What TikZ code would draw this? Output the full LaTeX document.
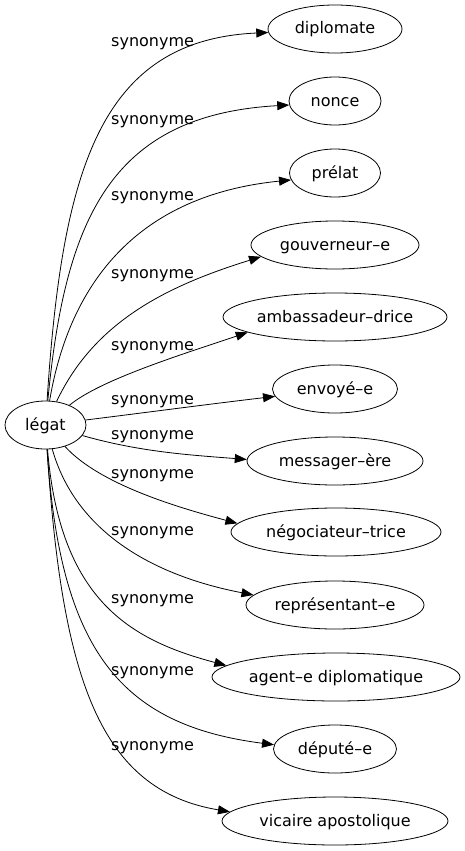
\documentclass[tikz,border=0pt]{standalone}
\usepackage{fontspec}
\setmainfont{DejaVu Sans}
\usetikzlibrary{shapes.geometric}
\usetikzlibrary{arrows.meta}

\begin{document}
\begin{tikzpicture}[
x=1pt, y=-1pt,
word_node/.style={ellipse, draw, line width=0.8pt, inner sep=0pt, minimum height=48pt, minimum width=#1, text height=12pt, text depth=2pt, font=\fontsize{16}{19}\selectfont},
syn_label/.style={anchor=base west, inner sep=0pt, font=\fontsize{16}{19}\selectfont},
syn_edge/.style={line width=0.8pt, -{Triangle[length=12pt, width=9pt]}}
]
\useasboundingbox (0,0) rectangle (464,851);
% Draw the head word
    \node[word_node=81pt] (legat) at (45.5,425) {légat};
% Draw the synonyms
    \node[word_node=134pt] (diplomate) at (335,29) {diplomate};
    \node[word_node=92pt] (nonce) at (335,101) {nonce};
    \node[word_node=91pt] (prelat) at (335,173) {prélat};
    \node[word_node=168pt] (gouverneur) at (335,245) {gouverneur–e};
    \node[word_node=224pt] (ambassadeur) at (335,317) {ambassadeur–drice};
    \node[word_node=125pt] (envoye) at (335,389) {envoyé–e};
    \node[word_node=176pt] (messager) at (335,461) {messager–ère};
    \node[word_node=210pt] (negociateur) at (336,532) {négociateur–trice};
    \node[word_node=178pt] (representant) at (335,605) {représentant–e};
    \node[word_node=248pt] (agent) at (336,677) {agent–e diplomatique};
    \node[word_node=123pt] (depute) at (335,749) {député–e};
    \node[word_node=226pt] (vicaire) at (335,821) {vicaire apostolique};

% Draw edges
    \draw[syn_edge] (legat) .. controls (62,170) and (100,40) .. (diplomate.183);
    \draw[syn_edge] (legat) .. controls (65,220) and (110,115) .. (nonce.185);
    \draw[syn_edge] (legat) .. controls (70,280) and (140,195) .. (prelat.189);
    \draw[syn_edge] (legat) .. controls (95,320) and (170,285) .. (gouverneur.189);
    \draw[syn_edge] (legat) .. controls (100,380) and (180,355) .. (ambassadeur.190);
    \draw[syn_edge] (legat) .. controls (150,412) and (210,404) .. (envoye.187);
    \draw[syn_edge] (legat) .. controls (140,452) and (190,455) .. (messager.179);
    \draw[syn_edge] (legat) .. controls (100,485) and (180,508) .. (negociateur.175);
    \draw[syn_edge] (legat) .. controls (75,530) and (150,575) .. (representant.173);
    \draw[syn_edge] (legat) .. controls (60,600) and (130,640) .. (agent.174);
    \draw[syn_edge] (legat) .. controls (60,650) and (120,725) .. (depute.176);
    \draw[syn_edge] (legat) .. controls (62,680) and (100,790) .. (vicaire.175);

% Draw edge labels
    \node[syn_label] (syn1) at (111,47) {synonyme};
    \node[syn_label] (syn2) at (111,124) {synonyme};
    \node[syn_label] (syn3) at (111,200) {synonyme};
    \node[syn_label] (syn4) at (111,278) {synonyme};
    \node[syn_label] (syn5) at (111,350) {synonyme};
    \node[syn_label] (syn6) at (111,404) {synonyme};
    \node[syn_label] (syn7) at (111,439) {synonyme};
    \node[syn_label] (syn8) at (111,478) {synonyme};
    \node[syn_label] (syn9) at (111,535) {synonyme};
    \node[syn_label] (syn10) at (111,603) {synonyme};
    \node[syn_label] (syn11) at (111,675) {synonyme};
    \node[syn_label] (syn12) at (111,750) {synonyme};
\end{tikzpicture}
\end{document}
